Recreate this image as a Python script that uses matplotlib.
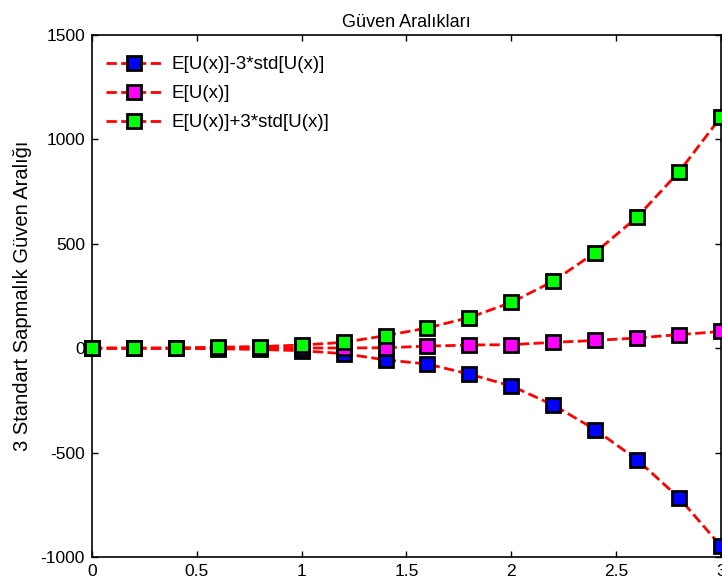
import matplotlib
matplotlib.use('Agg')
import matplotlib.pyplot as plt

plt.rcParams['font.family'] = ['Liberation Sans', 'DejaVu Sans']
plt.rcParams['axes.unicode_minus'] = False

x = [0, 0.2, 0.4, 0.6, 0.8, 1.0, 1.2, 1.4, 1.6, 1.8, 2.0, 2.2, 2.4, 2.6, 2.8, 3.0]
lower = [0, 0, -1, -3, -6, -12, -26, -56, -76, -124, -181, -272, -390, -534, -717, -948]
mean = [0, 0, 0, 1, 1, 1, 1, 2, 10, 15, 17, 28, 37, 49, 65, 80]
upper = [0, 0, 1, 5, 8, 15, 28, 60, 97, 147, 219, 321, 458, 628, 845, 1108]

labels = ['E[U(x)]-3*std[U(x)]', 'E[U(x)]', 'E[U(x)]+3*std[U(x)]']
colors = ['#0000ff', '#ff00ff', '#00ff00']

fig = plt.figure(figsize=(7.22, 5.87), dpi=100)
ax = fig.add_axes([0.1274, 0.0511, 0.8712, 0.8893])

for series, lab, col in zip([lower, mean, upper], labels, colors):
    ax.plot(x, series, '--', color='red', linewidth=2, marker='s', markersize=10,
            markerfacecolor=col, markeredgecolor='black', markeredgewidth=2,
            label=lab, clip_on=False, zorder=3)

ax.set_xlim(0, 3)
ax.set_ylim(-1000, 1500)
ax.set_xticks([0, 0.5, 1, 1.5, 2, 2.5, 3])
ax.set_xticklabels(['0', '0.5', '1', '1.5', '2', '2.5', '3'])
ax.set_yticks([-1000, -500, 0, 500, 1000, 1500])
ax.tick_params(direction='in', top=True, right=True, length=4, width=1,
               labelsize=12.5, pad=5)
for s in ax.spines.values():
    s.set_linewidth(1.2)

ax.set_title('Güven Aralıkları', fontsize=13, pad=6)
ax.set_ylabel('3 Standart Sapmalık Güven Aralığı', fontsize=14.5, labelpad=6)

ax.legend(loc='upper left', bbox_to_anchor=(-0.003, 0.990), frameon=False,
          fontsize=13.5, handlelength=3, borderaxespad=0.45, labelspacing=0.63,
          handletextpad=0.5)

fig.savefig('out.png', dpi=100)
